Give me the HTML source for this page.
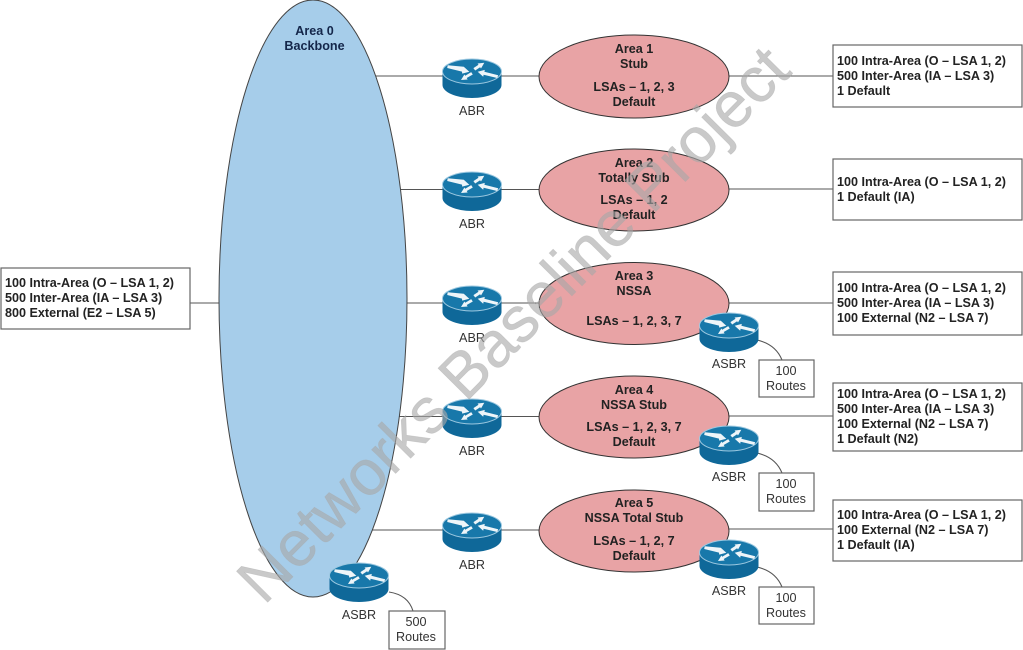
<!DOCTYPE html>
<html><head><meta charset="utf-8"><style>
html,body{margin:0;padding:0;background:#fff}
svg{display:block}
text{font-family:"Liberation Sans",sans-serif;font-size:12.600px;fill:#222}
.b text{font-weight:bold}
.c{text-anchor:middle}
.box{fill:#fff;stroke:#666;stroke-width:1.200}
.ln{stroke:#555;stroke-width:1.100;fill:none}
.area{fill:#e8a3a5;stroke:#333;stroke-width:1}
.n{fill:#333}
</style></head><body>
<svg width="1023" height="650" viewBox="0 0 1023 650" xmlns="http://www.w3.org/2000/svg">
<defs>
<g id="r">
<path d="M-29.500,-6.500 V7 C-29.500,14 -16,20 0,20 C16,20 29.500,14 29.500,7 V-6.500 Z" fill="#0f6899"/>
<ellipse cx="0" cy="-6.500" rx="29.500" ry="12.500" fill="#1878aa" stroke="#9cc8e0" stroke-width="1"/>
<g fill="#eef5f9" stroke="none">
<path d="M-24.300,-12.800 L-8.200,-11.200 L-2.700,-6.300 L-9.800,-4.400 L-10,-6.400 L-24.800,-10 Z"/>
<path d="M5.700,-6.300 L12.800,-8.100 L12.400,-6.200 L26.200,-2.700 L25.200,0 L11.600,-3.300 L11.200,-1.300 Z"/>
<path d="M12.300,-15.300 L9,-9.500 L8.100,-10.800 L3.200,-7.500 L1.400,-9.900 L6.500,-13.200 L5.600,-14.500 Z"/>
<path d="M-11,2 L-4.400,1.500 L-5.300,0 L0.800,-3.500 L-0.800,-5.900 L-6.800,-2.200 L-7.600,-3.500 Z"/>
</g>
</g>
</defs>
<rect width="1023" height="650" fill="#fff"/>

<!-- connectors -->
<path class="ln" d="M190,303H225M370,76H445M500,76H541M729,76H833M390,189.500H445M500,189.500H541M729,189H833M390,303H445M500,303H541M729,303H833M390,416.500H445M500,416.500H541M729,416H833M365,530H445M500,530H541M729,529H833"/>

<!-- backbone -->
<ellipse cx="313" cy="298.500" rx="94" ry="298.500" fill="#a6cdea" stroke="#444" stroke-width="1"/>

<!-- areas -->
<ellipse class="area" cx="634" cy="76.500" rx="95" ry="41.500"/>
<ellipse class="area" cx="634" cy="190" rx="95" ry="41"/>
<ellipse class="area" cx="634" cy="303.500" rx="95" ry="41"/>
<ellipse class="area" cx="634" cy="417" rx="95" ry="41"/>
<ellipse class="area" cx="634" cy="531" rx="95" ry="41"/>

<!-- curved links -->
<path class="ln" d="M757,340C770,343 778,350 782,360M757,453C770,456 778,463 782,473M757,567C770,570 778,577 782,587M389,592C402,594 410,601 413,611"/>

<!-- routers -->
<use href="#r" x="472" y="78"/><use href="#r" x="472" y="191"/><use href="#r" x="472" y="305"/><use href="#r" x="472" y="418"/><use href="#r" x="472" y="532"/>
<use href="#r" x="729" y="332"/><use href="#r" x="729" y="445"/><use href="#r" x="729" y="559"/><use href="#r" x="359" y="582"/>

<!-- boxes -->
<rect class="box" x="1" y="268" width="189" height="61"/>
<rect class="box" x="833" y="45" width="189" height="62"/>
<rect class="box" x="833" y="159" width="189" height="61"/>
<rect class="box" x="833" y="272" width="189" height="63"/>
<rect class="box" x="833" y="383" width="189" height="68"/>
<rect class="box" x="833" y="500" width="189" height="61"/>
<rect class="box" x="759" y="360" width="55" height="37"/>
<rect class="box" x="759" y="473" width="55" height="38"/>
<rect class="box" x="759" y="587" width="55" height="37"/>
<rect class="box" x="389" y="611" width="56" height="38"/>

<!-- labels -->
<g class="b">
<text x="5" y="287">100 Intra-Area (O – LSA 1, 2)</text><text x="5" y="302">500 Inter-Area (IA – LSA 3)</text><text x="5" y="317">800 External (E2 – LSA 5)</text>
<text x="837" y="65">100 Intra-Area (O – LSA 1, 2)</text><text x="837" y="80">500 Inter-Area (IA – LSA 3)</text><text x="837" y="95">1 Default</text>
<text x="837" y="186">100 Intra-Area (O – LSA 1, 2)</text><text x="837" y="201">1 Default (IA)</text>
<text x="837" y="292">100 Intra-Area (O – LSA 1, 2)</text><text x="837" y="307">500 Inter-Area (IA – LSA 3)</text><text x="837" y="322">100 External (N2 – LSA 7)</text>
<text x="837" y="398">100 Intra-Area (O – LSA 1, 2)</text><text x="837" y="413">500 Inter-Area (IA – LSA 3)</text><text x="837" y="428">100 External (N2 – LSA 7)</text><text x="837" y="443">1 Default (N2)</text>
<text x="837" y="519">100 Intra-Area (O – LSA 1, 2)</text><text x="837" y="534">100 External (N2 – LSA 7)</text><text x="837" y="549">1 Default (IA)</text>
<text x="314.500" y="35" class="c" style="fill:#14264a">Area 0</text><text x="314.500" y="50" class="c" style="fill:#14264a">Backbone</text>
<text x="634" y="53" class="c">Area 1</text><text x="634" y="68" class="c">Stub</text><text x="634" y="91" class="c">LSAs – 1, 2, 3</text><text x="634" y="106" class="c">Default</text>
<text x="634" y="167" class="c">Area 2</text><text x="634" y="182" class="c">Totally Stub</text><text x="634" y="204" class="c">LSAs – 1, 2</text><text x="634" y="219" class="c">Default</text>
<text x="634" y="280" class="c">Area 3</text><text x="634" y="295" class="c">NSSA</text><text x="634" y="325" class="c">LSAs – 1, 2, 3, 7</text>
<text x="634" y="394" class="c">Area 4</text><text x="634" y="409" class="c">NSSA Stub</text><text x="634" y="431" class="c">LSAs – 1, 2, 3, 7</text><text x="634" y="446" class="c">Default</text>
<text x="634" y="507" class="c">Area 5</text><text x="634" y="522" class="c">NSSA Total Stub</text><text x="634" y="545" class="c">LSAs – 1, 2, 7</text><text x="634" y="560" class="c">Default</text>
</g>
<text class="c n" x="472" y="115">ABR</text><text class="c n" x="472" y="228">ABR</text><text class="c n" x="472" y="342">ABR</text><text class="c n" x="472" y="455">ABR</text><text class="c n" x="472" y="569">ABR</text>
<text class="c n" x="729" y="368">ASBR</text><text class="c n" x="729" y="481">ASBR</text><text class="c n" x="729" y="595">ASBR</text><text class="c n" x="359" y="619">ASBR</text>
<text class="c n" x="786" y="375">100</text><text class="c n" x="786" y="390">Routes</text>
<text class="c n" x="786" y="488">100</text><text class="c n" x="786" y="503">Routes</text>
<text class="c n" x="786" y="602">100</text><text class="c n" x="786" y="617">Routes</text>
<text class="c n" x="416" y="626">500</text><text class="c n" x="416" y="641">Routes</text>

<!-- watermark -->
<text transform="translate(264,606) rotate(-45.200)" x="0" y="0" textLength="751" lengthAdjust="spacingAndGlyphs" style="font-size:64px;fill:#a8a8a8;fill-opacity:.62;stroke:#a8a8a8;stroke-opacity:.4;stroke-width:.6">Networks Baseline Project</text>
</svg>
</body></html>
